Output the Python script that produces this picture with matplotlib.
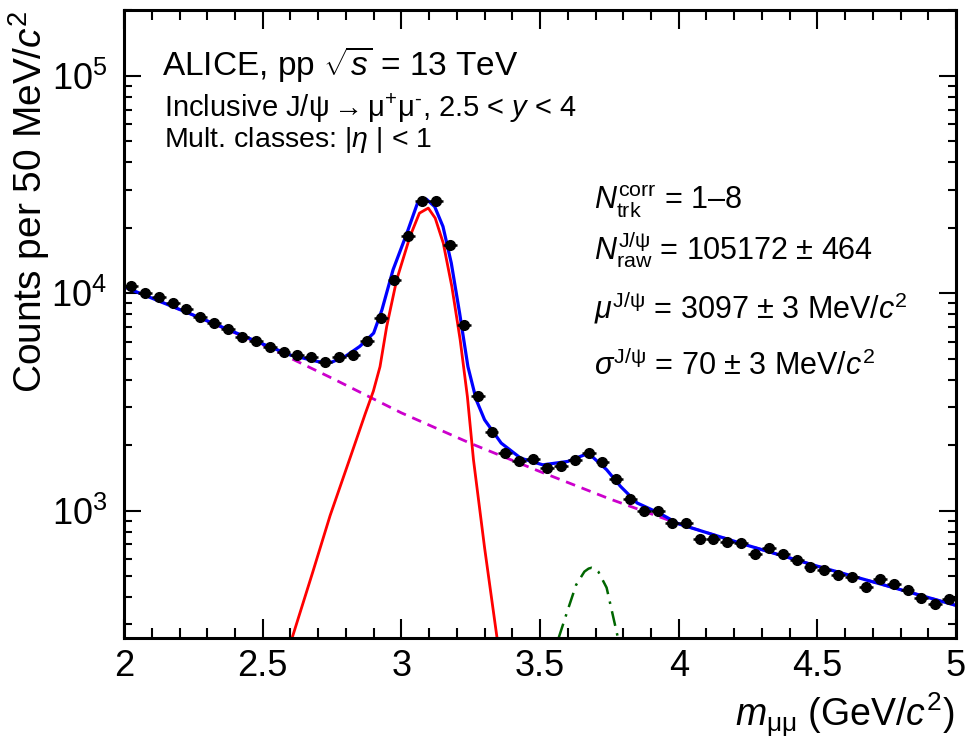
import numpy as np
import matplotlib
matplotlib.use("Agg")
import matplotlib.pyplot as plt
from matplotlib.ticker import MultipleLocator, LogLocator, NullFormatter

plt.rcParams['font.family'] = ['Liberation Sans', 'DejaVu Sans']
plt.rcParams['mathtext.fontset'] = 'custom'
plt.rcParams['mathtext.rm'] = 'Liberation Sans'
plt.rcParams['mathtext.it'] = 'Liberation Sans:italic'
plt.rcParams['mathtext.bf'] = 'Liberation Sans:bold'

# histogram: 50 MeV bins from 2 to 5 GeV/c^2
bin_edges = np.arange(2.0, 5.0001, 0.05)
counts = [10830, 10085, 9667, 9073, 8453, 7816, 7288, 6838, 6325, 6062,
          5650, 5395, 5210, 5085, 4853, 5085, 5210, 6062, 7735, 11550,
          18380, 26700, 26700, 16700, 7115, 3354, 2310, 1841, 1686, 1728,
          1571, 1610, 1716, 1841, 1668, 1403, 1137, 994, 1000, 880,
          883, 743, 743, 722, 710, 632, 677, 634, 595, 549,
          536, 508, 496, 445, 483, 462, 434, 397, 374, 394]

# fit components
total_m = [2.0, 2.25, 2.5, 2.6, 2.7, 2.75, 2.8, 2.85, 2.9, 2.93, 2.97, 3.02,
           3.06, 3.09, 3.12, 3.15, 3.18, 3.21, 3.24, 3.27, 3.30, 3.36, 3.43,
           3.51, 3.60, 3.66, 3.69, 3.74, 3.79, 3.85, 3.93, 4.0, 4.25, 4.5,
           4.75, 5.0]
total_y = [10720, 7940, 5850, 5200, 4850, 4830, 5150, 5700, 6560, 8400,
           12830, 18920, 26400, 27100, 25060, 20290, 13770, 8110, 4600, 3236,
           2620, 2047, 1746, 1626, 1686, 1808, 1765, 1545, 1295, 1086, 975,
           870, 692, 556, 452, 367]

jpsi_m = [2.606, 2.68, 2.743, 2.815, 2.87, 2.899, 2.923, 2.947, 2.983, 3.031,
          3.065, 3.097, 3.122, 3.151, 3.182, 3.212, 3.238, 3.260, 3.30, 3.345]
jpsi_y = [260, 520, 950, 1750, 2800, 3550, 4600, 7030, 11530, 18240,
          23370, 24660, 22170, 17020, 10740, 6110, 3350, 1715, 676, 260]

psi2s_m = [3.567, 3.60, 3.63, 3.66, 3.675, 3.686, 3.70, 3.71, 3.74, 3.781]
psi2s_y = [260, 350, 456, 525, 542, 547, 540, 525, 443, 260]

bkg_m = [2.0, 2.25, 2.5, 2.75, 3.0, 3.25, 3.5, 3.75, 4.0, 4.25, 4.5, 4.75, 5.0]
bkg_y = [10720, 7940, 5800, 4070, 2820, 2040, 1514, 1135, 871, 692, 556, 452, 367]

centers = 0.5 * (bin_edges[1:] + bin_edges[:-1])
half_width = 0.5 * (bin_edges[1:] - bin_edges[:-1])

fig = plt.figure(figsize=(9.66, 7.42), dpi=100)
ax = fig.add_axes([0.1284, 0.1402, 0.8613, 0.8464])

ax.plot(bkg_m, bkg_y, color='#cc00cc', lw=2.0, ls=(0, (3.5, 2.5)))
ax.plot(psi2s_m, psi2s_y, color='#006600', lw=1.8, ls=(0, (6, 3, 1, 3)))
ax.plot(jpsi_m, jpsi_y, color='#ff0000', lw=2.0)
ax.plot(total_m, total_y, color='#0000ff', lw=2.3)
ax.errorbar(centers, counts, xerr=half_width, fmt='o', color='black',
            ms=7, elinewidth=1.8, capsize=0, zorder=5)

ax.set_yscale('log')
ax.set_xlim(2, 5)
ax.set_ylim(260, 2.01e5)

ax.xaxis.set_major_locator(MultipleLocator(0.5))
ax.xaxis.set_minor_locator(MultipleLocator(0.1))
ax.xaxis.set_major_formatter(matplotlib.ticker.FuncFormatter(lambda v, p: f"{v:g}"))
ax.yaxis.set_major_locator(LogLocator(base=10))
ax.yaxis.set_minor_locator(LogLocator(base=10, subs=np.arange(2, 10)))
ax.yaxis.set_minor_formatter(NullFormatter())

ax.tick_params(which='both', direction='in', top=True, right=True, width=1.5,
               labelsize=26)
ax.tick_params(axis='x', which='major', length=14, pad=8)
ax.tick_params(axis='x', which='minor', length=7)
ax.tick_params(axis='y', which='major', length=12, pad=12)
ax.tick_params(axis='y', which='minor', length=6)
for s in ax.spines.values():
    s.set_linewidth(2.2)

ax.set_xlabel(r'$m_{\mathrm{\mu\mu}}$ (GeV/$c^{2}$)', fontsize=27, loc='right')
ax.xaxis.set_label_coords(0.998, -0.083)
ax.set_ylabel(r'Counts per 50 MeV/$c^{2}$', fontsize=28, loc='top')
ax.yaxis.set_label_coords(-0.086, 1.0)

def px(x, y):
    return x / 966, 1 - y / 742

fig.text(*px(162, 75), r'ALICE, pp $\sqrt{s}$ = 13 TeV', fontsize=24, va='baseline')
fig.text(*px(164, 117), r'Inclusive J/ψ$\rightarrow$μ$^{+}$μ$^{\text{-}}$, 2.5 < $y$ < 4',
         fontsize=21, va='baseline')
fig.text(*px(164, 147), r'Mult. classes: |$\eta$ | < 1', fontsize=20.5, va='baseline')

fig.text(*px(594, 210), r'$N_{\mathrm{trk}}^{\mathrm{corr}}$ = 1–8', fontsize=22, va='baseline')
fig.text(*px(594, 260), r'$N_{\mathrm{raw}}^{\mathrm{J/ψ}}$ = 105172 ± 464', fontsize=22, va='baseline')
fig.text(*px(594, 318), r'$\mu^{\mathrm{J/ψ}}$ = 3097 ± 3 MeV/$c^{2}$', fontsize=22, va='baseline')
fig.text(*px(594, 375), r'$\sigma^{\mathrm{J/ψ}}$ = 70 ± 3 MeV/$c^{2}$', fontsize=22, va='baseline')

fig.savefig('out.png', dpi=100)
